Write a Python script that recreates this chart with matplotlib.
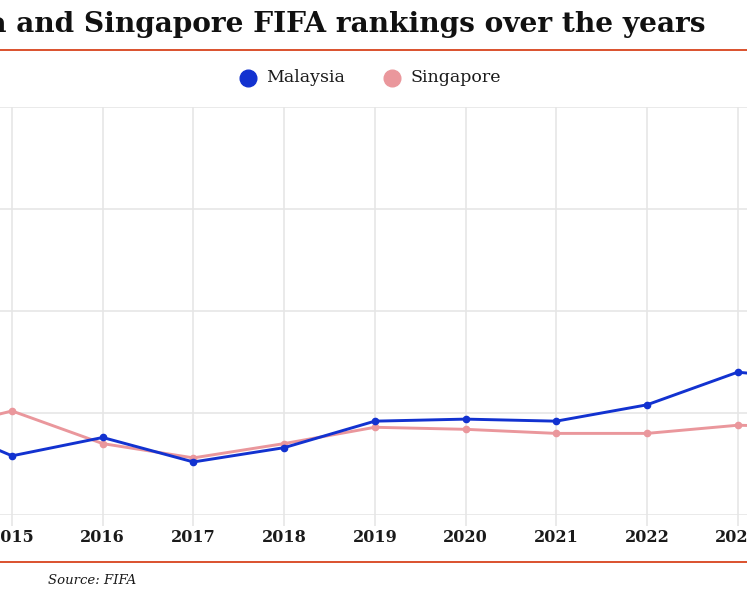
import numpy as np
import matplotlib.pyplot as plt

years = [2014, 2015, 2016, 2017, 2018, 2019, 2020, 2021, 2022, 2023, 2024]
malaysia = [152, 171, 162, 174, 167, 154, 153, 154, 146, 130, 134]
singapore = [160, 149, 165, 172, 165, 157, 158, 160, 160, 156, 157]
tick_years = [2015, 2016, 2017, 2018, 2019, 2020, 2021, 2022, 2023]
y_grid = [0, 50, 100, 150, 200]

BLUE = "#1232d0"
PINK = "#ea979c"
ORANGE = "#d8431c"
GRID = "#e6e6e6"
SERIF = ["DejaVu Serif"]

W, H = 747, 598
fig = plt.figure(figsize=(W / 100, H / 100), dpi=100)

# axes deliberately run past the figure edges (the reference is a crop)
x0, x1 = 12 - 90.7, 737.6 + 90.7
ytop, ybot = 107, 515
ax = fig.add_axes([x0 / W, (H - ybot) / H, (x1 - x0) / W, (ybot - ytop) / H])

ax.plot(years, singapore, color=PINK, lw=2.1, marker="o", ms=4.5, zorder=3)
ax.plot(years, malaysia, color=BLUE, lw=2.1, marker="o", ms=4.5, zorder=4)

ax.set_xlim(2014, 2024)
ax.set_ylim(200, 0)
ax.set_xticks(tick_years)
ax.set_xticklabels([str(y) for y in tick_years], family=SERIF,
                   fontsize=11.5, fontweight="bold", color="#1a1a1a")
ax.set_yticks(y_grid)
ax.set_yticklabels([])
ax.tick_params(axis="x", length=8, width=1.2, color=GRID, pad=2)
ax.tick_params(axis="y", length=0)
ax.grid(True, color=GRID, lw=1.2)
ax.set_axisbelow(True)
for s in ax.spines.values():
    s.set_visible(False)

# title + rules
fig.text(705 / W, 1 - 24 / H, "Malaysia and Singapore FIFA rankings over the years",
         ha="right", va="center", family=SERIF, fontsize=20.2, fontweight="bold",
         color="#111111")
fig.add_artist(plt.Line2D([0, 1], [1 - 50 / H, 1 - 50 / H], color=ORANGE, lw=1.3))
fig.add_artist(plt.Line2D([0, 1], [1 - 562 / H, 1 - 562 / H], color=ORANGE, lw=1.3))

# legend
for cx, label, c in [(248, "Malaysia", BLUE), (392, "Singapore", PINK)]:
    fig.add_artist(plt.Line2D([cx / W], [1 - 78 / H], marker="o", ms=12,
                              color=c, mec=c, ls="none"))
    fig.text((cx + 18) / W, 1 - 78 / H, label, ha="left", va="center",
             family=SERIF, fontsize=12.5, color="#1a1a1a")

fig.text(48 / W, 1 - 580 / H, "Source: FIFA", ha="left", va="center",
         family=SERIF, fontsize=9.5, style="italic", color="#1a1a1a")

fig.savefig("out.png", dpi=100)
